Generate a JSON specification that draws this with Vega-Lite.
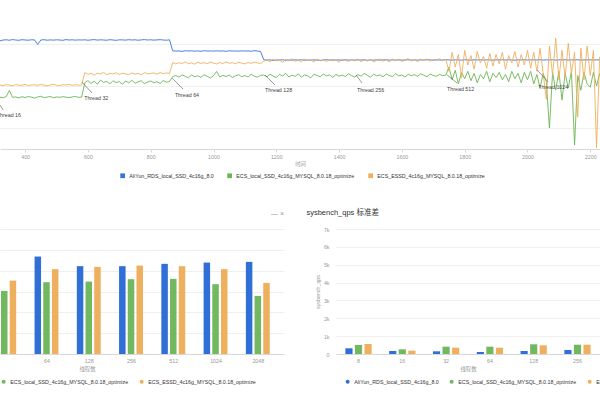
{
  "$schema": "https://vega.github.io/schema/vega-lite/v6.json",
  "padding": {"top": 23, "left": 0, "right": 0, "bottom": 0},
  "background": "white",
  "bounds": "flush",
  "spacing": 80,
  "config": {
    "view": {"stroke": null},
    "font": "Liberation Sans, Noto Sans CJK SC",
    "axis": {"labelFontSize": 5.3, "labelColor": "#999", "titleFontSize": 5.3, "titleColor": "#999", "titleFontWeight": "normal", "gridColor": "#efefef", "domainColor": "#d8d8d8", "tickColor": "#d8d8d8"},
    "legend": {"labelFontSize": 5.3, "labelColor": "#333", "symbolSize": 16, "columnPadding": 10, "labelOffset": 4, "labelLimit": 300, "orient": "none", "direction": "horizontal", "title": null}
  },
  "datasets": {
    "series": [
      {"k": "a", "name": "AliYun_RDS_local_SSD_4c16g_8.0"},
      {"k": "b", "name": "ECS_local_SSD_4c16g_MYSQL_8.0.18_optimize"},
      {"k": "c", "name": "ECS_ESSD_4c16g_MYSQL_8.0.18_optimize"}
    ],
    "qps": [
      {"t":320,"a":5150,"b":2470,"c":3050},{"t":330,"a":5190,"b":2440,"c":3020},{"t":340,"a":5200,"b":2500,"c":3060},{"t":350,"a":5180,"b":2790,"c":3040},{"t":360,"a":5210,"b":2460,"c":3010},{"t":370,"a":5190,"b":2480,"c":3070},{"t":380,"a":5175,"b":2430,"c":3040},{"t":390,"a":5205,"b":2490,"c":3030},{"t":400,"a":5190,"b":2450,"c":3080},{"t":410,"a":5180,"b":2500,"c":3020},{"t":420,"a":5200,"b":2470,"c":3050},{"t":430,"a":5195,"b":2420,"c":3060},{"t":440,"a":4980,"b":2480,"c":3030},{"t":450,"a":5190,"b":2510,"c":3070},{"t":460,"a":5205,"b":2450,"c":3040},{"t":470,"a":5180,"b":2470,"c":3010},{"t":480,"a":5195,"b":2500,"c":3050},{"t":490,"a":5185,"b":2440,"c":3080},{"t":500,"a":5200,"b":2480,"c":3040},{"t":510,"a":5190,"b":2460,"c":3020},{"t":520,"a":5175,"b":2490,"c":3060},{"t":530,"a":5210,"b":2470,"c":3050},{"t":540,"a":5190,"b":2450,"c":3070},{"t":550,"a":5200,"b":2480,"c":3030},{"t":560,"a":5185,"b":2500,"c":3060},{"t":570,"a":5195,"b":2460,"c":3040},{"t":580,"a":5190,"b":2470,"c":3050},
      {"t":590,"a":5200,"b":3150,"c":3640},{"t":600,"a":5180,"b":3260,"c":3560},{"t":610,"a":5195,"b":3120,"c":3600},{"t":620,"a":5210,"b":3230,"c":3520},{"t":630,"a":5185,"b":3090,"c":3610},{"t":640,"a":5200,"b":3280,"c":3570},{"t":650,"a":5190,"b":3170,"c":3650},{"t":660,"a":5180,"b":3220,"c":3540},{"t":670,"a":5205,"b":3100,"c":3600},{"t":680,"a":5190,"b":3250,"c":3580},{"t":690,"a":5175,"b":3160,"c":3630},{"t":700,"a":5200,"b":3210,"c":3550},{"t":710,"a":5195,"b":3080,"c":3610},{"t":720,"a":5185,"b":3240,"c":3580},{"t":730,"a":5205,"b":3150,"c":3540},{"t":740,"a":5190,"b":3270,"c":3620},{"t":750,"a":5200,"b":3130,"c":3570},{"t":760,"a":5180,"b":3200,"c":3600},{"t":770,"a":5195,"b":3250,"c":3530},{"t":780,"a":5210,"b":3110,"c":3640},{"t":790,"a":5190,"b":3190,"c":3580},{"t":800,"a":5200,"b":3240,"c":3600},{"t":810,"a":5185,"b":3150,"c":3620},{"t":820,"a":5195,"b":3210,"c":3560},{"t":830,"a":5205,"b":3120,"c":3640},{"t":840,"a":5190,"b":3260,"c":3590},{"t":850,"a":5180,"b":3180,"c":3620},{"t":860,"a":5200,"b":3220,"c":3600},
      {"t":870,"a":4680,"b":3450,"c":4120},{"t":880,"a":4660,"b":3500,"c":4050},{"t":890,"a":4670,"b":3420,"c":4110},{"t":900,"a":4650,"b":3530,"c":4070},{"t":910,"a":4680,"b":3460,"c":4150},{"t":920,"a":4665,"b":3390,"c":4060},{"t":930,"a":4675,"b":3520,"c":4100},{"t":940,"a":4660,"b":3440,"c":4040},{"t":950,"a":4670,"b":3490,"c":4130},{"t":960,"a":4655,"b":3410,"c":4080},{"t":970,"a":4680,"b":3540,"c":4110},{"t":980,"a":4665,"b":3460,"c":4060},{"t":990,"a":4670,"b":3380,"c":4140},{"t":1000,"a":4660,"b":3500,"c":4090},{"t":1010,"a":4675,"b":3690,"c":4050},{"t":1020,"a":4665,"b":3430,"c":4120},{"t":1030,"a":4670,"b":3510,"c":4070},{"t":1040,"a":4650,"b":3450,"c":4150},{"t":1050,"a":4680,"b":3520,"c":4080},{"t":1060,"a":4665,"b":3410,"c":4110},{"t":1070,"a":4670,"b":3480,"c":4060},{"t":1080,"a":4660,"b":3540,"c":4130},{"t":1090,"a":4675,"b":3440,"c":4090},{"t":1100,"a":4665,"b":3500,"c":4050},{"t":1110,"a":4670,"b":3430,"c":4120},{"t":1120,"a":4655,"b":3560,"c":4080},{"t":1130,"a":4680,"b":3470,"c":4140},{"t":1140,"a":4665,"b":3420,"c":4100},{"t":1150,"a":4640,"b":3510,"c":4070},
      {"t":1160,"a":4250,"b":3520,"c":4180},{"t":1170,"a":4230,"b":3440,"c":4260},{"t":1180,"a":4245,"b":3560,"c":4150},{"t":1190,"a":4220,"b":3470,"c":4280},{"t":1200,"a":4240,"b":3400,"c":4190},{"t":1210,"a":4235,"b":3550,"c":4240},{"t":1220,"a":4250,"b":3480,"c":4120},{"t":1230,"a":4225,"b":3600,"c":4270},{"t":1240,"a":4240,"b":3430,"c":4200},{"t":1250,"a":4230,"b":3520,"c":4300},{"t":1260,"a":4245,"b":3460,"c":4170},{"t":1270,"a":4235,"b":3580,"c":4230},{"t":1280,"a":4250,"b":3420,"c":4150},{"t":1290,"a":4225,"b":3530,"c":4280},{"t":1300,"a":4240,"b":3480,"c":4210},{"t":1310,"a":4230,"b":3390,"c":4250},{"t":1320,"a":4245,"b":3560,"c":4140},{"t":1330,"a":4235,"b":3500,"c":4290},{"t":1340,"a":4220,"b":3440,"c":4200},{"t":1350,"a":4240,"b":3570,"c":4250},{"t":1360,"a":4250,"b":3480,"c":4160},{"t":1370,"a":4230,"b":3530,"c":4270},{"t":1380,"a":4245,"b":3410,"c":4190},{"t":1390,"a":4235,"b":3550,"c":4240},{"t":1400,"a":4240,"b":3470,"c":4130},{"t":1410,"a":4225,"b":3520,"c":4280},{"t":1420,"a":4250,"b":3450,"c":4220},{"t":1430,"a":4235,"b":3580,"c":4170},{"t":1440,"a":4240,"b":3490,"c":4260},{"t":1450,"a":4230,"b":3430,"c":4200},{"t":1460,"a":4245,"b":3540,"c":4290},{"t":1470,"a":4235,"b":3470,"c":4160},{"t":1480,"a":4250,"b":3600,"c":4240},{"t":1490,"a":4225,"b":3500,"c":4190},{"t":1500,"a":4240,"b":3420,"c":4270},{"t":1510,"a":4230,"b":3560,"c":4150},{"t":1520,"a":4245,"b":3480,"c":4230},{"t":1530,"a":4235,"b":3530,"c":4280},{"t":1540,"a":4240,"b":3440,"c":4180},{"t":1550,"a":4250,"b":3570,"c":4250},{"t":1560,"a":4230,"b":3500,"c":4140},{"t":1570,"a":4240,"b":3450,"c":4290},{"t":1580,"a":4235,"b":3590,"c":4210},{"t":1590,"a":4245,"b":3480,"c":4260},{"t":1600,"a":4230,"b":3520,"c":4170},{"t":1610,"a":4240,"b":3430,"c":4240},{"t":1620,"a":4250,"b":3560,"c":4300},{"t":1630,"a":4235,"b":3490,"c":4190},{"t":1640,"a":4240,"b":3540,"c":4250},{"t":1650,"a":4230,"b":3460,"c":4160},{"t":1660,"a":4245,"b":3580,"c":4280},{"t":1670,"a":4235,"b":3510,"c":4220},{"t":1680,"a":4250,"b":3440,"c":4290},{"t":1690,"a":4240,"b":3570,"c":4180},{"t":1700,"a":4230,"b":3500,"c":4260},{"t":1710,"a":4245,"b":3460,"c":4230},{"t":1720,"a":4235,"b":3550,"c":4300},{"t":1730,"a":4240,"b":3490,"c":4200},{"t":1740,"a":4250,"b":3520,"c":4270},
      {"t":1750,"a":4240,"b":3900,"c":3700},{"t":1760,"a":4235,"b":3300,"c":4600},{"t":1770,"a":4245,"b":3750,"c":3900},{"t":1780,"a":4240,"b":3100,"c":4500},{"t":1790,"a":4230,"b":3650,"c":3400},{"t":1800,"a":4245,"b":3350,"c":4700},{"t":1810,"a":4240,"b":3700,"c":4000},{"t":1820,"a":4235,"b":3250,"c":4450},{"t":1830,"a":4245,"b":3600,"c":3800},{"t":1840,"a":4240,"b":3150,"c":4650},{"t":1850,"a":4250,"b":3550,"c":4100},{"t":1860,"a":4235,"b":3350,"c":4400},{"t":1870,"a":4245,"b":3700,"c":3850},{"t":1880,"a":4240,"b":3200,"c":4550},{"t":1890,"a":4230,"b":3600,"c":3950},{"t":1900,"a":4245,"b":3400,"c":4500},{"t":1910,"a":4240,"b":3650,"c":4050},{"t":1920,"a":4250,"b":3300,"c":4600},{"t":1930,"a":4235,"b":3550,"c":3800},{"t":1940,"a":4245,"b":3200,"c":4450},{"t":1950,"a":4240,"b":3700,"c":4100},{"t":1960,"a":4230,"b":3350,"c":4650},{"t":1970,"a":4245,"b":3600,"c":3900},{"t":1980,"a":4240,"b":3150,"c":4500},{"t":1990,"a":4250,"b":3650,"c":4000},{"t":2000,"a":4235,"b":3300,"c":4700},{"t":2010,"a":4245,"b":3700,"c":3850},{"t":2020,"a":4240,"b":3100,"c":4600},
      {"t":2030,"a":4240,"b":3550,"c":3700},{"t":2040,"a":4250,"b":2900,"c":4800},{"t":2050,"a":4235,"b":3600,"c":3600},{"t":2060,"a":4245,"b":3200,"c":2370},{"t":2070,"a":4240,"b":1000,"c":4900},{"t":2080,"a":4250,"b":3650,"c":3500},{"t":2090,"a":4230,"b":2800,"c":5270},{"t":2100,"a":4245,"b":3700,"c":3300},{"t":2110,"a":4240,"b":2330,"c":4700},{"t":2120,"a":4250,"b":3600,"c":3400},{"t":2130,"a":4235,"b":2900,"c":5030},{"t":2140,"a":4245,"b":3700,"c":3600},{"t":2150,"a":4240,"b":190,"c":4600},{"t":2160,"a":4250,"b":3500,"c":1520},{"t":2170,"a":4235,"b":2800,"c":4800},{"t":2180,"a":4245,"b":3650,"c":3300},{"t":2190,"a":4240,"b":3100,"c":4900},{"t":2200,"a":4250,"b":2940,"c":3500},{"t":2210,"a":4235,"b":3650,"c":4700},{"t":2220,"a":4245,"b":3000,"c":50},{"t":2230,"a":4240,"b":3600,"c":4400}
    ],
    "notes": [
      {"label": "Thread 16", "t1": 320, "v1": 2095, "t2": 330, "v2": 1857, "tl": 310, "vl": 1619},
      {"label": "Thread 32", "t1": 581, "v1": 3190, "t2": 613, "v2": 2667, "tl": 588, "vl": 2429},
      {"label": "Thread 64", "t1": 868, "v1": 3381, "t2": 903, "v2": 2857, "tl": 877, "vl": 2571},
      {"label": "Thread 128", "t1": 1164, "v1": 3524, "t2": 1196, "v2": 3048, "tl": 1164, "vl": 2810},
      {"label": "Thread 256", "t1": 1454, "v1": 3524, "t2": 1473, "v2": 3143, "tl": 1457, "vl": 2810},
      {"label": "Thread 512", "t1": 1744, "v1": 3524, "t2": 1776, "v2": 3143, "tl": 1744, "vl": 2857},
      {"label": "Thread 1024", "t1": 2031, "v1": 3762, "t2": 2066, "v2": 3190, "tl": 2034, "vl": 2952}
    ],
    "avg": [
      {"threads": 32, "k": "a", "qps": 5160}, {"threads": 32, "k": "b", "qps": 3029}, {"threads": 32, "k": "c", "qps": 3524},
      {"threads": 64, "k": "a", "qps": 4678}, {"threads": 64, "k": "b", "qps": 3447}, {"threads": 64, "k": "c", "qps": 4072},
      {"threads": 128, "k": "a", "qps": 4216}, {"threads": 128, "k": "b", "qps": 3476}, {"threads": 128, "k": "c", "qps": 4183},
      {"threads": 256, "k": "a", "qps": 4216}, {"threads": 256, "k": "b", "qps": 3591}, {"threads": 256, "k": "c", "qps": 4245},
      {"threads": 512, "k": "a", "qps": 4327}, {"threads": 512, "k": "b", "qps": 3606}, {"threads": 512, "k": "c", "qps": 4216},
      {"threads": 1024, "k": "a", "qps": 4389}, {"threads": 1024, "k": "b", "qps": 3351}, {"threads": 1024, "k": "c", "qps": 4072},
      {"threads": 2048, "k": "a", "qps": 4423}, {"threads": 2048, "k": "b", "qps": 2788}, {"threads": 2048, "k": "c", "qps": 3413}
    ],
    "std": [
      {"threads": 8, "k": "a", "sd": 319}, {"threads": 8, "k": "b", "sd": 504}, {"threads": 8, "k": "c", "sd": 560},
      {"threads": 16, "k": "a", "sd": 168}, {"threads": 16, "k": "b", "sd": 263}, {"threads": 16, "k": "c", "sd": 187},
      {"threads": 32, "k": "a", "sd": 151}, {"threads": 32, "k": "b", "sd": 409}, {"threads": 32, "k": "c", "sd": 353},
      {"threads": 64, "k": "a", "sd": 112}, {"threads": 64, "k": "b", "sd": 409}, {"threads": 64, "k": "c", "sd": 353},
      {"threads": 128, "k": "a", "sd": 168}, {"threads": 128, "k": "b", "sd": 543}, {"threads": 128, "k": "c", "sd": 487},
      {"threads": 256, "k": "a", "sd": 224}, {"threads": 256, "k": "b", "sd": 521}, {"threads": 256, "k": "c", "sd": 521}
    ]
  },
  "resolve": {"scale": {"color": "independent"}, "legend": {"color": "independent"}},
  "vconcat": [
    {
      "width": 600,
      "height": 126,
      "layer": [
        {
          "data": {"name": "qps"},
          "transform": [
            {"fold": ["a", "b", "c"], "as": ["k", "qps"]},
            {"lookup": "k", "from": {"data": {"name": "series"}, "key": "k", "fields": ["name"]}}
          ],
          "mark": {"type": "line", "strokeWidth": 0.9, "clip": true},
          "encoding": {
            "x": {"field": "t", "type": "quantitative", "scale": {"domain": [320, 2231], "nice": false, "zero": false},
              "axis": {"values": [400,500,600,700,800,900,1000,1100,1200,1300,1400,1500,1600,1700,1800,1900,2000,2100,2200], "format": "d", "grid": false, "tickSize": 3, "labelPadding": 2, "title": "时间", "titlePadding": 2}},
            "y": {"field": "qps", "type": "quantitative", "scale": {"domain": [0, 6000], "nice": false},
              "axis": {"values": [1000,2000,3000,4000,5000,6000], "labels": false, "ticks": false, "domain": false, "title": null}},
            "color": {"field": "name", "type": "nominal",
              "scale": {"domain": ["AliYun_RDS_local_SSD_4c16g_8.0", "ECS_local_SSD_4c16g_MYSQL_8.0.18_optimize", "ECS_ESSD_4c16g_MYSQL_8.0.18_optimize"], "range": ["#3674d9", "#6bb553", "#efb05b"]},
              "legend": {"legendX": 120, "legendY": 150, "symbolType": "square", "symbolSize": 5, "symbolStrokeWidth": 2.5, "columnPadding": 9}}
          }
        },
        {
          "data": {"name": "notes"},
          "mark": {"type": "rule", "color": "#555", "strokeWidth": 0.6, "clip": true},
          "encoding": {
            "x": {"field": "t1", "type": "quantitative"},
            "y": {"field": "v1", "type": "quantitative"},
            "x2": {"field": "t2"},
            "y2": {"field": "v2"}
          }
        },
        {
          "data": {"name": "notes"},
          "mark": {"type": "text", "align": "left", "baseline": "middle", "fontSize": 5.3, "color": "#444", "clip": true},
          "encoding": {
            "x": {"field": "tl", "type": "quantitative"},
            "y": {"field": "vl", "type": "quantitative"},
            "text": {"field": "label"}
          }
        }
      ]
    },
    {
      "bounds": "flush",
      "spacing": 52,
      "resolve": {"scale": {"color": "independent"}, "legend": {"color": "independent"}},
      "hconcat": [
        {
          "width": 284,
          "height": 125,
          "data": {"name": "avg"},
          "transform": [{"lookup": "k", "from": {"data": {"name": "series"}, "key": "k", "fields": ["name"]}}],
          "title": {"text": "—  ×", "anchor": "end", "fontSize": 7, "color": "#999", "fontWeight": "normal", "offset": 12},
          "encoding": {
            "x": {"field": "threads", "type": "quantitative", "scale": {"type": "log", "base": 2, "domain": [32.4, 2899], "nice": false},
              "axis": {"values": [64, 128, 256, 512, 1024, 2048], "format": "d", "grid": false, "ticks": false, "labelPadding": 4, "labelFlush": false, "title": "线程数", "titlePadding": 3, "titleX": 87}},
            "y": {"field": "qps", "type": "quantitative", "scale": {"domain": [0, 6000], "nice": false},
              "axis": {"values": [0,1000,2000,3000,4000,5000,6000], "labels": false, "ticks": false, "domain": false, "title": null}},
            "color": {"field": "name", "type": "nominal",
              "scale": {"domain": ["AliYun_RDS_local_SSD_4c16g_8.0", "ECS_local_SSD_4c16g_MYSQL_8.0.18_optimize", "ECS_ESSD_4c16g_MYSQL_8.0.18_optimize"], "range": ["#2f6fd6", "#72b860", "#eeb05e"]},
              "legend": {"values": ["ECS_local_SSD_4c16g_MYSQL_8.0.18_optimize", "ECS_ESSD_4c16g_MYSQL_8.0.18_optimize"], "legendX": 1, "legendY": 150, "symbolType": "circle", "symbolStrokeWidth": 0}}
          },
          "layer": [
            {"transform": [{"filter": {"field": "k", "equal": "a"}}], "mark": {"type": "bar", "orient": "vertical", "size": 6.5, "xOffset": -8.7, "clip": true}},
            {"transform": [{"filter": {"field": "k", "equal": "b"}}], "mark": {"type": "bar", "orient": "vertical", "size": 6.5, "xOffset": 0, "clip": true}},
            {"transform": [{"filter": {"field": "k", "equal": "c"}}], "mark": {"type": "bar", "orient": "vertical", "size": 6.5, "xOffset": 8.7, "clip": true}}
          ]
        },
        {
          "width": 264,
          "height": 125,
          "data": {"name": "std"},
          "transform": [{"lookup": "k", "from": {"data": {"name": "series"}, "key": "k", "fields": ["name"]}}],
          "title": {"text": "sysbench_qps 标准差", "anchor": "start", "dx": -9, "fontSize": 7.5, "color": "#333", "fontWeight": "normal", "offset": 11},
          "mark": {"type": "bar"},
          "encoding": {
            "x": {"field": "threads", "type": "ordinal", "scale": {"domain": [8, 16, 32, 64, 128, 256], "paddingInner": 0.4, "paddingOuter": 0.214},
              "axis": {"labelAngle": 0, "ticks": false, "labelPadding": 4, "title": "线程数", "titlePadding": 3}},
            "xOffset": {"field": "name", "type": "nominal", "scale": {"domain": ["AliYun_RDS_local_SSD_4c16g_8.0", "ECS_local_SSD_4c16g_MYSQL_8.0.18_optimize", "ECS_ESSD_4c16g_MYSQL_8.0.18_optimize"], "paddingInner": 0.25, "paddingOuter": 0}},
            "y": {"field": "sd", "type": "quantitative", "scale": {"domain": [0, 7000], "nice": false},
              "axis": {"values": [0,1000,2000,3000,4000,5000,6000,7000], "format": "~s", "labelExpr": "datum.value == 0 ? '0' : datum.label", "ticks": false, "domain": false, "labelPadding": 7, "title": "sysbench_qps", "titlePadding": 3}},
            "color": {"field": "name", "type": "nominal",
              "scale": {"domain": ["AliYun_RDS_local_SSD_4c16g_8.0", "ECS_local_SSD_4c16g_MYSQL_8.0.18_optimize", "ECS_ESSD_4c16g_MYSQL_8.0.18_optimize"], "range": ["#2f6fd6", "#72b860", "#eeb05e"]},
              "legend": {"legendX": 9, "legendY": 150, "symbolType": "circle", "symbolStrokeWidth": 0}}
          }
        }
      ]
    }
  ]
}
